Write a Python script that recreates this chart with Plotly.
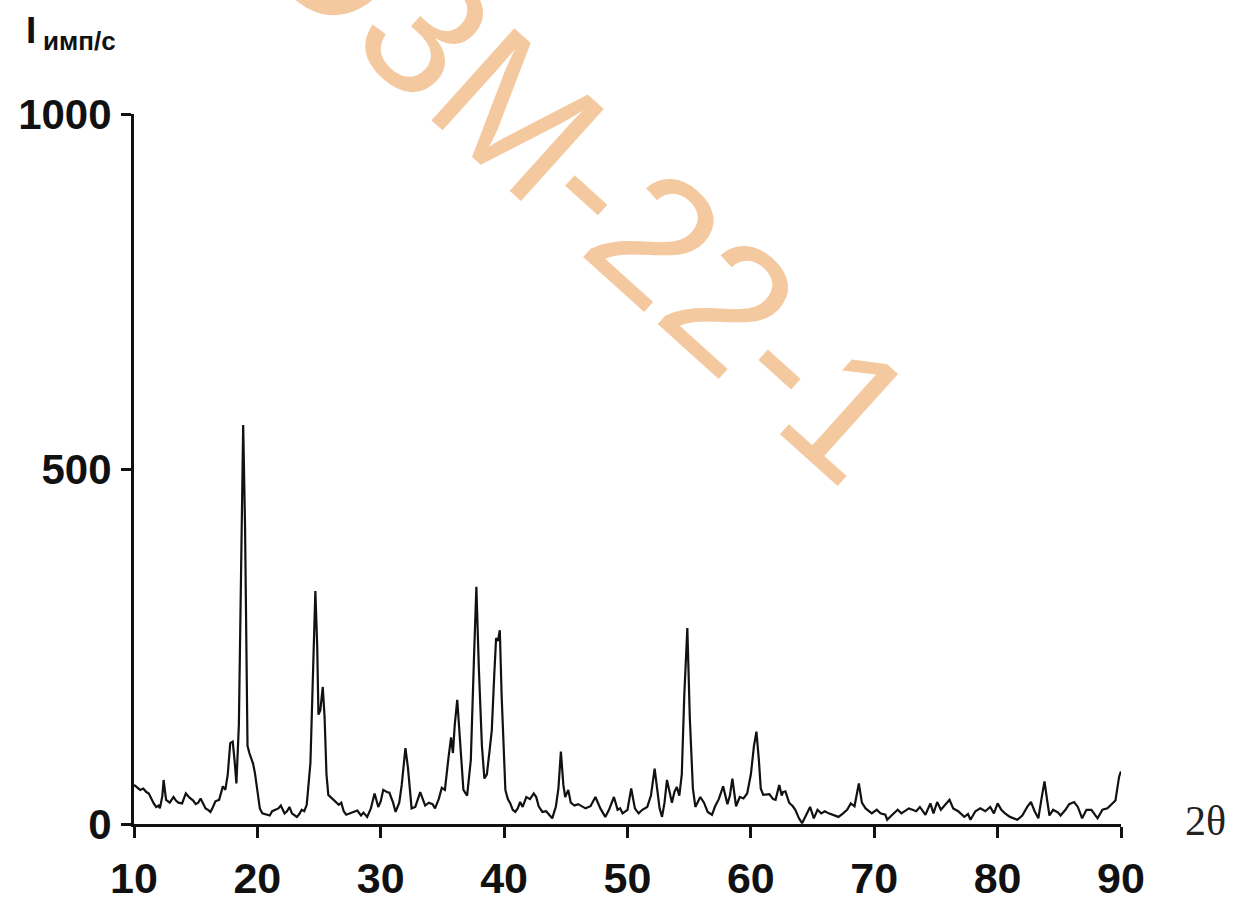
import plotly.graph_objects as go

two_theta = [10.0, 10.2, 10.5, 10.75, 11.0, 11.2, 11.4, 11.6, 11.8, 12.0, 12.1, 12.3, 12.4, 12.6, 12.9,
             13.2, 13.4, 13.6, 13.9, 14.2, 14.5, 14.8, 15.0, 15.2, 15.4, 15.6, 15.8, 16.0, 16.2, 16.4,
             16.6, 16.9, 17.2, 17.4, 17.6, 17.8, 18.0, 18.15, 18.3, 18.5, 18.7, 18.85, 19.0, 19.1, 19.2,
             19.35, 19.5, 19.65, 19.8, 20.0, 20.2, 20.4, 20.7, 21.0, 21.2, 21.4, 21.7, 21.9, 22.2, 22.4,
             22.6, 22.8, 23.2, 23.4, 23.6, 23.8, 24.0, 24.3, 24.5, 24.7, 24.85, 24.95, 25.1, 25.3, 25.45,
             25.6, 25.75, 26.0, 26.2, 26.4, 26.6, 26.8, 27.0, 27.2, 27.5, 27.7, 27.9, 28.1, 28.4, 28.6,
             28.9, 29.2, 29.5, 29.8, 30.0, 30.2, 30.5, 30.7, 31.0, 31.2, 31.5, 31.7, 32.0, 32.2, 32.5,
             32.8, 33.2, 33.4, 33.6, 33.9, 34.2, 34.4, 34.7, 34.95, 35.2, 35.5, 35.7, 35.85, 36.0, 36.2,
             36.4, 36.7, 37.0, 37.3, 37.55, 37.75, 37.95, 38.2, 38.4, 38.6, 38.8, 39.0, 39.2, 39.35, 39.5,
             39.65, 39.8, 40.0, 40.1, 40.3, 40.5, 40.7, 40.9, 41.1, 41.3, 41.5, 41.8, 42.1, 42.4, 42.6,
             42.8, 43.1, 43.4, 43.6, 43.9, 44.2, 44.4, 44.6, 44.8, 44.95, 45.2, 45.4, 45.7, 46.0, 46.3,
             46.6, 47.0, 47.4, 47.8, 48.2, 48.5, 48.9, 49.2, 49.4, 49.6, 50.0, 50.3, 50.6, 50.9, 51.2,
             51.6, 51.9, 52.2, 52.4, 52.6, 52.8, 53.0, 53.2, 53.4, 53.6, 53.8, 54.0, 54.2, 54.4, 54.6,
             54.85, 55.05, 55.3, 55.5, 55.7, 55.9, 56.2, 56.5, 56.85, 57.1, 57.4, 57.75, 58.1, 58.3, 58.5,
             58.8, 59.1, 59.4, 59.7, 60.0, 60.25, 60.45, 60.65, 60.8, 61.0, 61.3, 61.5, 61.8, 62.0, 62.3,
             62.5, 62.6, 62.8, 63.1, 63.4, 63.6, 63.9, 64.15, 64.4, 64.6, 64.8, 65.1, 65.4, 65.7, 66.0,
             66.3, 66.7, 67.1, 67.4, 67.8, 68.1, 68.4, 68.75, 69.0, 69.3, 69.6, 69.8, 70.2, 70.5, 70.9,
             71.05, 71.4, 71.9, 72.2, 72.5, 72.8, 73.1, 73.4, 73.7, 73.95, 74.15, 74.55, 74.8, 75.1, 75.4,
             75.7, 76.1, 76.4, 76.8, 77.3, 77.6, 77.8, 78.2, 78.6, 79.0, 79.4, 79.7, 80.0, 80.3, 80.6,
             81.0, 81.6, 82.0, 82.4, 82.7, 83.0, 83.3, 83.55, 83.8, 84.0, 84.2, 84.5, 84.9, 85.1, 85.5,
             85.8, 86.2, 86.5, 86.85, 87.2, 87.6, 88.1, 88.5, 88.9, 89.2, 89.55, 89.85, 90.0]

intensity = [55, 52, 48, 50, 45, 43, 35, 29, 24, 26, 22, 40, 62, 34, 30,
             38, 33, 30, 29, 43, 37, 33, 28, 30, 36, 30, 22, 20, 17, 24,
             32, 34, 53, 48, 70, 114, 116, 90, 57, 140, 350, 562, 420, 200, 110,
             100, 92, 85, 72, 45, 22, 15, 13, 12, 18, 20, 22, 26, 15, 18,
             24, 15, 10, 14, 20, 18, 27, 86, 200, 328, 250, 154, 160, 193, 150,
             70, 41, 37, 34, 30, 27, 30, 18, 13, 15, 16, 18, 19, 12, 16,
             10, 22, 43, 24, 32, 48, 45, 44, 30, 17, 30, 55, 107, 80, 22,
             24, 45, 35, 26, 30, 28, 22, 35, 51, 48, 95, 122, 100, 140, 175,
             120, 48, 40, 90, 230, 334, 220, 110, 64, 70, 100, 132, 210, 262, 258,
             273, 180, 70, 48, 35, 29, 20, 17, 22, 31, 24, 38, 35, 43, 38,
             25, 17, 18, 14, 8, 25, 50, 102, 55, 38, 48, 30, 26, 28, 25,
             22, 25, 38, 22, 10, 20, 38, 20, 22, 15, 20, 50, 22, 15, 20,
             24, 40, 78, 45, 22, 10, 30, 62, 45, 30, 45, 52, 40, 70, 180,
             276, 150, 50, 24, 32, 38, 30, 17, 13, 25, 35, 53, 28, 40, 64,
             25, 38, 36, 43, 70, 110, 130, 90, 50, 41, 42, 42, 35, 34, 55,
             40, 45, 46, 30, 25, 20, 8, 1, 10, 15, 24, 8, 20, 15, 18,
             15, 12, 10, 14, 20, 29, 25, 57, 30, 22, 18, 15, 20, 15, 13,
             6, 12, 20, 15, 18, 22, 20, 18, 24, 18, 13, 29, 15, 31, 20,
             26, 34, 22, 18, 10, 14, 6, 18, 22, 18, 24, 15, 29, 20, 15,
             10, 6, 12, 24, 31, 18, 8, 35, 60, 35, 12, 20, 16, 12, 20,
             28, 31, 24, 8, 20, 20, 8, 20, 22, 27, 33, 67, 74]

x_ticks = [10, 20, 30, 40, 50, 60, 70, 80, 90]
y_ticks = [0, 500, 1000]

fig = go.Figure()
fig.add_trace(go.Scatter(x=two_theta, y=intensity, mode="lines",
                         line=dict(color="#111111", width=2.2), showlegend=False,
                         cliponaxis=False))

x_font = dict(family="Liberation Sans, Arial, sans-serif", size=43, color="#111111")
y_font = dict(family="Liberation Sans, Arial, sans-serif", size=42, color="#111111")

fig.update_layout(
    width=1246, height=904,
    margin=dict(l=134, r=125, t=114, b=80, autoexpand=False),
    paper_bgcolor="white", plot_bgcolor="white",
    font=dict(family="Liberation Sans, Arial, sans-serif"),
    xaxis=dict(range=[10, 90], tickvals=x_ticks, ticktext=[f"<b>{v}</b>" for v in x_ticks],
               showline=True, linecolor="#111111", linewidth=3, ticks="outside",
               ticklen=11, tickwidth=3, tickcolor="#111111", showgrid=False, zeroline=False,
               tickfont=x_font, ticklabelstandoff=3),
    yaxis=dict(range=[0, 1000], tickvals=y_ticks, ticktext=[f"<b>{v}</b>" for v in y_ticks],
               showline=True, linecolor="#111111", linewidth=3, ticks="outside",
               ticklen=10, tickwidth=3, tickcolor="#111111", showgrid=False, zeroline=False,
               tickfont=y_font, ticklabelstandoff=1),
    annotations=[
        dict(text="О3М-22-1", xref="paper", yref="paper", x=0.457, y=0.915,
             xanchor="center", yanchor="middle", textangle=42, showarrow=False,
             font=dict(family="Liberation Sans, Arial, sans-serif", size=180, color="#F5C9A0")),
        dict(text="<b>I</b>", xref="paper", yref="paper", x=(24 - 134) / 987, y=(824 - 31) / 710,
             xanchor="left", yanchor="middle", showarrow=False,
             font=dict(family="Liberation Sans, Arial, sans-serif", size=37, color="#111111")),
        dict(text="<b>имп/с</b>", xref="paper", yref="paper", x=(41 - 134) / 987, y=(824 - 41) / 710,
             xanchor="left", yanchor="middle", showarrow=False,
             font=dict(family="Liberation Sans, Arial, sans-serif", size=26, color="#111111")),
        dict(text="2θ", xref="paper", yref="paper", x=(1183 - 134) / 987, y=(824 - 821) / 710,
             xanchor="left", yanchor="middle", showarrow=False,
             font=dict(family="Liberation Serif, Times New Roman, serif", size=42, color="#222222")),
    ],
)

fig.write_html("out.html")
